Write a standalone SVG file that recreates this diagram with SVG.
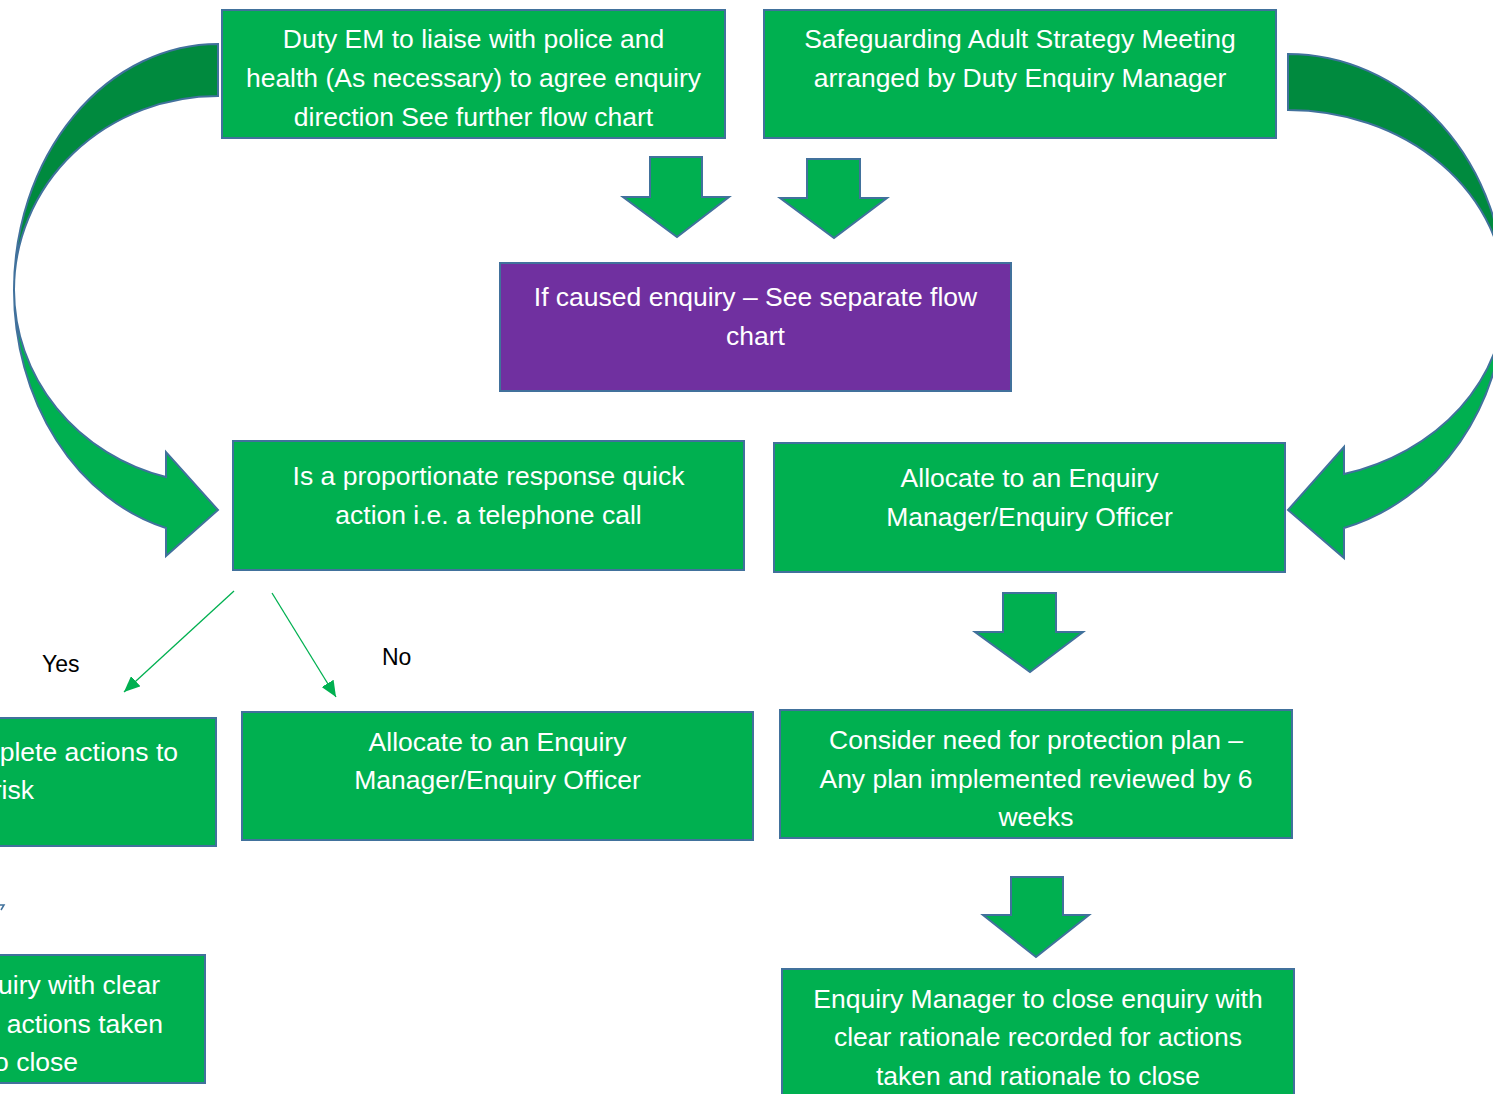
<svg xmlns="http://www.w3.org/2000/svg" width="1493" height="1094" viewBox="0 0 1493 1094">
<defs>
<style>
.box{fill:#00B050;stroke:#41719C;stroke-width:2}
.purple{fill:#7030A0;stroke:#41719C;stroke-width:2}
.t{font-family:"Liberation Sans",Arial,sans-serif;font-size:26.5px;fill:#FFFFFF;text-anchor:middle}
.te{font-family:"Liberation Sans",Arial,sans-serif;font-size:26.5px;fill:#FFFFFF;text-anchor:end}
.lbl{font-family:"Liberation Sans",Arial,sans-serif;font-size:23px;fill:#000000}
.blk{fill:#00B050;stroke:#41719C;stroke-width:2;stroke-linejoin:miter}
.dark{fill:#008A3E;stroke:#41719C;stroke-width:2}
.conn{stroke:#00B050;stroke-width:1.3;fill:none}
</style>
<marker id="ah" markerUnits="userSpaceOnUse" markerWidth="18" markerHeight="14" refX="16" refY="7" orient="auto">
<path d="M0,0 L16,7 L0,14 Z" fill="#00B050"/>
</marker>
</defs>
<rect width="1493" height="1094" fill="#FFFFFF"/>

<g id="curved-arrows">
<path class="dark" d="M218,44 A204,246 0 0 0 14,290 A204,194 0 0 1 218,96 Z"/>
<path class="blk" d="M14,290 A204,246 0 0 0 166,528 L166,556 L218,510 L166,452 L166,477 A204,194 0 0 1 14,290 Z"/>
<path class="dark" d="M1288,54 A217,241 0 0 1 1505,295 A217,185 0 0 0 1288,110 Z"/>
<path class="blk" d="M1505,295 A217,241 0 0 1 1344,528 L1344,558 L1288,510 L1344,447 L1344,474 A217,185 0 0 0 1505,295 Z"/>
</g>

<g id="block-arrows">
<path class="blk" d="M650,157 L702,157 L702,197 L729,197 L677,237 L623,197 L650,197 Z"/>
<path class="blk" d="M807,159 L860,159 L860,198 L887,198 L834,238 L780,198 L807,198 Z"/>
<path class="blk" d="M1003,593 L1056,593 L1056,632 L1083,632 L1030,672 L975,632 L1003,632 Z"/>
<path class="blk" d="M1011,877 L1063,877 L1063,915 L1089,915 L1036,957 L983,915 L1011,915 Z"/>
</g>

<g id="connectors">
<line class="conn" x1="234" y1="591" x2="124" y2="692" marker-end="url(#ah)"/>
<line class="conn" x1="272" y1="593" x2="336" y2="697" marker-end="url(#ah)"/>
<path d="M0,905 L4,905 L1,910" fill="none" stroke="#41719C" stroke-width="1.5"/>
</g>

<g id="labels">
<text class="lbl" x="42" y="672">Yes</text>
<text class="lbl" x="382" y="665">No</text>
</g>

<g id="node-duty-em">
<rect class="box" x="222" y="10" width="503" height="128"/>
<text class="t" x="473.5" y="48">Duty EM to liaise with police and</text>
<text class="t" x="473.5" y="87">health (As necessary) to agree enquiry</text>
<text class="t" x="473.5" y="126">direction See further flow chart</text>
</g>

<g id="node-strategy">
<rect class="box" x="764" y="10" width="512" height="128"/>
<text class="t" x="1020" y="48">Safeguarding Adult Strategy Meeting</text>
<text class="t" x="1020" y="87">arranged by Duty Enquiry Manager</text>
</g>

<g id="node-caused">
<rect class="purple" x="500" y="263" width="511" height="128"/>
<text class="t" x="755.5" y="306">If caused enquiry – See separate flow</text>
<text class="t" x="755.5" y="345">chart</text>
</g>

<g id="node-proportionate">
<rect class="box" x="233" y="441" width="511" height="129"/>
<text class="t" x="488.5" y="485">Is a proportionate response quick</text>
<text class="t" x="488.5" y="524">action i.e. a telephone call</text>
</g>

<g id="node-allocate-right">
<rect class="box" x="774" y="443" width="511" height="129"/>
<text class="t" x="1029.5" y="487">Allocate to an Enquiry</text>
<text class="t" x="1029.5" y="526">Manager/Enquiry Officer</text>
</g>

<g id="node-complete-actions">
<rect class="box" x="-300" y="718" width="516" height="128"/>
<text class="te" x="178" y="761">plete actions to</text>
<text class="te" x="34" y="799">risk</text>
</g>

<g id="node-allocate-mid">
<rect class="box" x="242" y="712" width="511" height="128"/>
<text class="t" x="497.5" y="751">Allocate to an Enquiry</text>
<text class="t" x="497.5" y="789">Manager/Enquiry Officer</text>
</g>

<g id="node-protection-plan">
<rect class="box" x="780" y="710" width="512" height="128"/>
<text class="t" x="1036" y="749">Consider need for protection plan –</text>
<text class="t" x="1036" y="788">Any plan implemented reviewed by 6</text>
<text class="t" x="1036" y="826">weeks</text>
</g>

<g id="node-close-left">
<rect class="box" x="-300" y="955" width="505" height="128"/>
<text class="te" x="160" y="994">uiry with clear</text>
<text class="te" x="163" y="1033">actions taken</text>
<text class="te" x="78" y="1071">o close</text>
</g>

<g id="node-close-right">
<rect class="box" x="782" y="969" width="512" height="140"/>
<text class="t" x="1038" y="1008">Enquiry Manager to close enquiry with</text>
<text class="t" x="1038" y="1046">clear rationale recorded for actions</text>
<text class="t" x="1038" y="1085">taken and rationale to close</text>
</g>
</svg>
